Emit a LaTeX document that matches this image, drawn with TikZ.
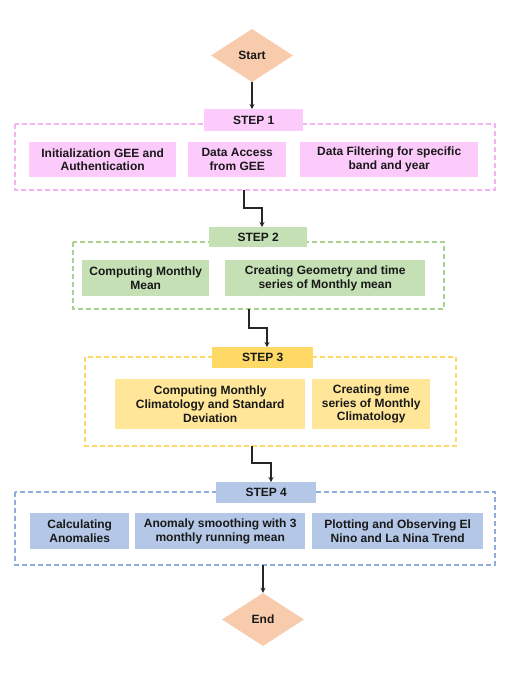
\documentclass[tikz,border=0pt]{standalone}
\usepackage{fontspec}
\setmainfont{Liberation Sans}
\usetikzlibrary{shapes.geometric,arrows.meta}
\definecolor{pinkF}{HTML}{FCCBFC}
\definecolor{pinkD}{HTML}{F4B4F4}
\definecolor{greenF}{HTML}{C5E0B4}
\definecolor{greenD}{HTML}{A9D18E}
\definecolor{yelS}{HTML}{FFD966}
\definecolor{yelF}{HTML}{FFE699}
\definecolor{yelD}{HTML}{FFD966}
\definecolor{blueF}{HTML}{B4C7E7}
\definecolor{blueD}{HTML}{8FAADC}
\definecolor{peach}{HTML}{F8CBAD}
\tikzset{
  x=1pt,y=-1pt,
  txt/.style={font=\bfseries\fontsize{12}{13.7}\selectfont, text=black!90, align=center},
  box/.style={txt, inner sep=0pt, anchor=north west},
  grp/.style={dashed, dash pattern=on 5pt off 3pt, line width=1.7pt},
  conn/.style={line width=1.1pt, black!85, -{Stealth[length=5pt,width=5pt]}},
  dia/.style={txt, diamond, fill=peach, inner sep=0pt, aspect=1.55},
}
\newcommand{\bx}[7]{% name, x1, y1, x2, y2, color, text
  \node[box, fill=#6, minimum width=#4-#2, minimum height=#5-#3] (#1) at (#2,#3) {};
  \node[txt] at (#1.center) {#7};
}
\begin{document}
\begin{tikzpicture}
\useasboundingbox (0,0) rectangle (507,673);
\fill[white] (0,0) rectangle (507,673);

% Start
\node[dia, minimum width=82pt, minimum height=53pt] (start) at (252,55.5) {Start};

% Group 1
\draw[grp, pinkD] (15,124) rectangle (495,190);
\coordinate (g1b) at (244,190);
\bx{s1}{204}{109}{303}{131}{pinkF}{STEP 1}
\bx{a1}{29}{142}{176}{177}{pinkF}{Initialization GEE and\\Authentication}
\bx{b1}{188}{142}{286}{177}{pinkF}{Data Access\\from GEE}
\bx{c1}{300}{142}{478}{177}{pinkF}{Data Filtering for specific\\band and year}

% Group 2
\draw[grp, greenD] (73,242) rectangle (444,309);
\coordinate (g2b) at (249,309);
\bx{s2}{209}{227}{307}{247}{greenF}{STEP 2}
\bx{a2}{82}{260}{209}{296}{greenF}{Computing Monthly\\Mean}
\bx{b2}{225}{260}{425}{296}{greenF}{Creating Geometry and time\\series of Monthly mean}

% Group 3
\draw[grp, yelD] (85,357) rectangle (456,446);
\coordinate (g3b) at (252,446);
\bx{s3}{212}{347}{313}{368}{yelS}{STEP 3}
\bx{a3}{115}{379}{305}{429}{yelF}{Computing Monthly\\Climatology and Standard\\Deviation}
\bx{b3}{312}{379}{430}{429}{yelF}{Creating time\\series of Monthly\\Climatology}

% Group 4
\draw[grp, blueD] (15,492) rectangle (495,565);
\coordinate (g4b) at (263,565);
\bx{s4}{216}{482}{316}{503}{blueF}{STEP 4}
\bx{a4}{30}{513}{129}{549}{blueF}{Calculating\\Anomalies}
\bx{b4}{135}{513}{305}{549}{blueF}{Anomaly smoothing with 3\\monthly running mean}
\bx{c4}{312}{513}{483}{549}{blueF}{Plotting and Observing El\\Nino and La Nina Trend}

% End
\node[dia, minimum width=82pt, minimum height=53pt] (end) at (263,619.5) {End};

% Connectors
\draw[conn] (start.south) -- (start.south |- s1.north);
\draw[conn] (g1b) |- (262,208) -- (262,227);
\draw[conn] (g2b) |- (267,328) -- (267,347);
\draw[conn] (g3b) |- (271,463) -- (271,482);
\draw[conn] (g4b) -- (end.north);
\end{tikzpicture}
\end{document}
